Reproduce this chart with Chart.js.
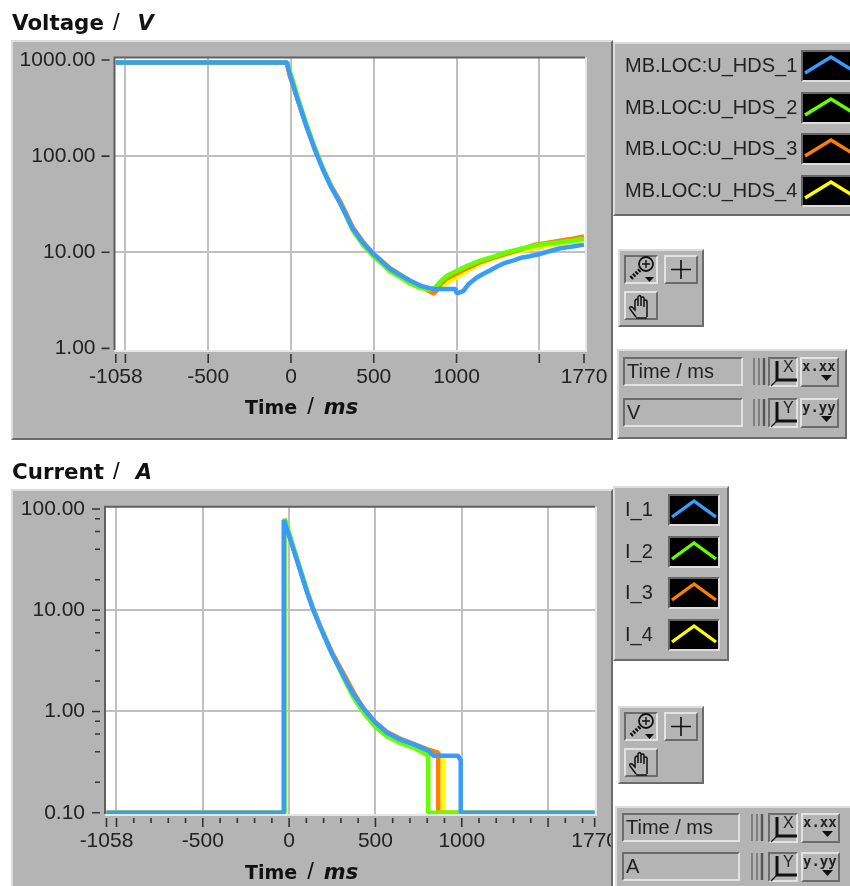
<!DOCTYPE html>
<html>
<head>
<meta charset="utf-8">
<title>Voltage and Current</title>
<script src="https://cdn.jsdelivr.net/npm/chart.js@4"></script>
<style>
  html, body { margin: 0; background: #fff; }
  #page { position: relative; width: 850px; height: 886px; overflow: hidden; filter: blur(0.45px);
          font-family: "Liberation Sans", sans-serif; color: #222; }
  .abs { position: absolute; }
  .box { position: absolute; box-sizing: border-box; background: #b4b4b4;
         border: 2px solid; border-color: #dcdcdc #6c6c6c #6c6c6c #dcdcdc; }
  canvas { position: absolute; left: 0; top: 0; }
  .heading { position: absolute; font: bold 21.4px "DejaVu Sans", sans-serif; color: #111; white-space: pre; line-height: 26px; }
  .axisTitle { position: absolute; font: bold 19px "DejaVu Sans", sans-serif; color: #111; white-space: pre; line-height: 24px; }
  .slash { font: normal 24px "Liberation Sans", sans-serif; }
  .unit { font: italic bold 21px "DejaVu Sans", sans-serif; }
  .legendLabel { position: absolute; font-size: 20px; line-height: 24px; white-space: pre; color: #222; }
  .swatch { position: absolute; box-sizing: border-box; background: #000; overflow: hidden;
            border: 2px solid; border-color: #666 #ddd #ddd #666; }
  .btn { position: absolute; box-sizing: border-box; border: 2px solid; border-color: #e2e2e2 #6c6c6c #6c6c6c #e2e2e2; }
  .btn.sunken { border-color: #6c6c6c #e2e2e2 #e2e2e2 #6c6c6c; }
  .field { position: absolute; box-sizing: border-box; border: 2px solid; border-color: #6c6c6c #e2e2e2 #e2e2e2 #6c6c6c;
           font-size: 20px; line-height: 24px; padding-left: 2px; white-space: pre; color: #222; }
  svg { position: absolute; left: 0; top: 0; overflow: visible; }
</style>
</head>
<body>
<div id="page"></div>
<script>
// Voltage traces (time in ms, value in V)
const u1Time = [-1058, -25, -8, 0, 47, 95, 143, 192, 240, 295, 337, 373, 434, 494, 550, 599, 660, 720, 780, 861, 992, 1002, 1042, 1073, 1123, 1160, 1204, 1245, 1284, 1340, 1384, 1440, 1505, 1565, 1626, 1700, 1770];
const u1Vals = [940, 940, 720, 649, 356, 200, 118, 73, 48.4, 33, 23.6, 17.6, 12.6, 9.7, 8, 6.7, 5.8, 5.06, 4.5, 4.14, 4.14, 3.72, 3.97, 4.67, 5.47, 5.95, 6.5, 7.1, 7.65, 8.2, 8.7, 9.1, 9.6, 10.3, 11, 11.5, 12];
const u2Time = [-1058, -22, -3, 47, 95, 143, 192, 240, 295, 337, 373, 434, 494, 550, 599, 660, 720, 780, 840, 871, 905, 942, 982, 1062, 1143, 1224, 1304, 1384, 1466, 1545, 1627, 1700, 1770];
const u2Vals = [945, 945, 730, 378, 212, 124, 76, 49.5, 33, 23, 16.9, 12, 9.2, 7.6, 6.3, 5.5, 4.7, 4.25, 4.1, 4.29, 5, 5.7, 6.17, 7.2, 8.2, 9, 10, 10.8, 11.7, 12.3, 12.7, 13.2, 13.8];
const u3Time = [-1058, -25, -10, 47, 95, 143, 192, 240, 295, 337, 373, 434, 494, 550, 599, 660, 720, 780, 840, 861, 880, 905, 942, 982, 1062, 1143, 1224, 1304, 1384, 1466, 1545, 1627, 1700, 1770];
const u3Vals = [940, 940, 710, 360, 202, 120, 75, 50, 34.5, 24.5, 18.2, 12.9, 9.8, 8, 6.8, 5.8, 5, 4.5, 3.9, 3.72, 4, 4.7, 5.35, 5.8, 6.8, 7.9, 8.8, 9.7, 10.6, 11.9, 12.5, 13.2, 13.8, 14.6];
const u4Time = [-1058, -25, -10, 47, 95, 143, 192, 240, 295, 337, 373, 434, 494, 550, 599, 660, 720, 780, 840, 880, 950, 1000, 1062, 1143, 1224, 1304, 1384, 1466, 1545, 1627, 1700, 1770];
const u4Vals = [940, 940, 705, 358, 201, 119, 74, 49, 33.5, 24, 17.9, 12.7, 9.7, 8.1, 6.9, 5.9, 5.05, 4.5, 4.15, 4.1, 4.9, 5.5, 6.4, 7.6, 8.6, 9.5, 10.3, 11, 11.7, 12.4, 13, 13.5];

// Current traces (time in ms, value in A)
const i1Time = [-1058, -30, -30, -24, 23, 69, 104, 139, 179, 248, 335, 372, 430, 498, 565, 642, 720, 806, 835, 978, 994, 994, 1770];
const i1Vals = [0.1, 0.1, 78, 72.6, 41, 23.2, 15, 10.2, 6.9, 3.74, 1.93, 1.49, 1.07, 0.78, 0.62, 0.53, 0.476, 0.41, 0.365, 0.365, 0.33, 0.1, 0.1];
const i2Time = [-1058, -27, -27, -20, 23, 69, 104, 139, 179, 248, 335, 372, 430, 498, 565, 642, 720, 790, 806, 806, 1000, 1770];
const i2Vals = [0.1, 0.1, 80, 76, 43, 24.3, 15.6, 10.4, 7, 3.7, 1.85, 1.38, 0.98, 0.71, 0.57, 0.49, 0.44, 0.38, 0.36, 0.1, 0.1, 0.1];
const i3Time = [-1058, -30, -30, -24, 23, 69, 104, 139, 179, 248, 335, 372, 430, 498, 565, 642, 720, 806, 864, 864, 1770];
const i3Vals = [0.1, 0.1, 78, 73, 42, 23.8, 15.4, 10.4, 7.1, 3.85, 2.05, 1.56, 1.08, 0.79, 0.63, 0.54, 0.48, 0.42, 0.393, 0.1, 0.1];
const i4Time = [-1058, -30, -30, -24, 23, 69, 104, 139, 179, 248, 335, 372, 430, 498, 565, 642, 720, 806, 890, 890, 1770];
const i4Vals = [0.1, 0.1, 78, 72.8, 41.2, 23.4, 15.1, 10.2, 6.95, 3.78, 1.95, 1.5, 1.06, 0.77, 0.62, 0.53, 0.47, 0.41, 0.36, 0.1, 0.1];

// Axis ticks
const timeTicks = [-1058, -1000, -500, 0, 500, 1000, 1500, 1770];
const timeLabels = [-1058, -500, 0, 500, 1000, 1770];
const timeGrid = [-1000, -500, 0, 500, 1000, 1500];
const timeMinor = [-900, -800, -700, -600, -400, -300, -200, -100, 100, 200, 300, 400, 600, 700, 800, 900, 1100, 1200, 1300, 1400, 1600, 1700];
const voltTicks = [1, 10, 100, 1000];
const voltGrid = [10, 100];
const currTicks = [0.1, 1, 10, 100];
const currGrid = [1, 10];
const currMinor = [0.2, 0.4, 0.6, 0.8, 2, 4, 6, 8, 20, 40, 60, 80];

const voltNames = ['MB.LOC:U_HDS_1', 'MB.LOC:U_HDS_2', 'MB.LOC:U_HDS_3', 'MB.LOC:U_HDS_4'];
const currNames = ['I_1', 'I_2', 'I_3', 'I_4'];
const traceColors = ['#3a9bff', '#66ff00', '#ff7f00', '#ffff00'];

const page = document.getElementById('page');

function zip(xs, ys) {
    return xs.map((x, i) => ({ x: x, y: ys[i] }));
}

// white plot backdrop, sunken frame and the tick marks, placed through the scales
const panelAxes = {
    id: 'panelAxes',
    beforeDraw(chart) {
        const a = chart.chartArea, ctx = chart.ctx;
        ctx.fillStyle = '#fff';
        ctx.fillRect(a.left, a.top, a.right - a.left, a.bottom - a.top);
    },
    afterDraw(chart, args, o) {
        const a = chart.chartArea, ctx = chart.ctx;
        ctx.save();
        ctx.strokeStyle = '#5f5f5f';
        ctx.lineWidth = 2;
        ctx.beginPath();
        ctx.moveTo(a.left, a.bottom);
        ctx.lineTo(a.left, a.top);
        ctx.lineTo(a.right, a.top);
        ctx.stroke();
        ctx.strokeStyle = '#e6e6e6';
        ctx.beginPath();
        ctx.moveTo(a.left, a.bottom + 1);
        ctx.lineTo(a.right + 1, a.bottom + 1);
        ctx.lineTo(a.right + 1, a.top);
        ctx.stroke();
        ctx.strokeStyle = '#333';
        ctx.lineWidth = 1.6;
        ctx.beginPath();
        const xs = chart.scales.x, ys = chart.scales.y;
        o.xMajor.forEach(v => { const p = xs.getPixelForValue(v); ctx.moveTo(p, a.bottom + 4); ctx.lineTo(p, a.bottom + 13); });
        o.xMinor.forEach(v => { const p = xs.getPixelForValue(v); ctx.moveTo(p, a.bottom + 4); ctx.lineTo(p, a.bottom + 9); });
        o.yMajor.forEach(v => { const p = ys.getPixelForValue(v); ctx.moveTo(a.left - 13, p); ctx.lineTo(a.left - 5, p); });
        o.yMinor.forEach(v => { const p = ys.getPixelForValue(v); ctx.moveTo(a.left - 10, p); ctx.lineTo(a.left - 5, p); });
        ctx.stroke();
        ctx.restore();
    }
};

function getChartConfig(s) {
    return {
        type: 'line',
        data: {
            datasets: s.series.map((d, i) => ({
                label: s.names[i],
                data: d,
                borderColor: traceColors[i],
                borderWidth: 4.5,
                borderJoinStyle: 'bevel',
                pointRadius: 0,
                tension: 0
            }))
        },
        options: {
            responsive: false,
            animation: false,
            events: [],
            layout: { padding: { left: 0, top: s.padTop, right: s.padRight, bottom: 0 } },
            plugins: {
                legend: { display: false },
                tooltip: { enabled: false },
                panelAxes: { xMajor: timeTicks, xMinor: s.xMinor, yMajor: s.yTicks, yMinor: s.yMinor }
            },
            scales: {
                x: {
                    type: 'linear',
                    min: s.xMin,
                    max: s.xMax,
                    afterBuildTicks(scale) { scale.ticks = timeTicks.map(v => ({ value: v })); },
                    afterFit(scale) { scale.height = s.xHeight; scale.paddingLeft = 0; scale.paddingRight = 0; },
                    border: { display: false },
                    grid: {
                        drawTicks: false,
                        lineWidth: 2,
                        color: c => timeGrid.includes(c.tick.value) ? '#c0c0c0' : 'rgba(0,0,0,0)'
                    },
                    ticks: {
                        autoSkip: false,
                        maxRotation: 0,
                        minRotation: 0,
                        padding: 15,
                        color: '#222',
                        font: { family: 'Liberation Sans', size: 21 },
                        callback: v => timeLabels.includes(v) ? String(v) : ''
                    }
                },
                y: {
                    type: 'logarithmic',
                    min: s.yMin,
                    max: s.yMax,
                    afterBuildTicks(scale) { scale.ticks = s.yTicks.map(v => ({ value: v })); },
                    afterFit(scale) { scale.width = s.yWidth; scale.paddingTop = 0; scale.paddingBottom = 0; },
                    border: { display: false },
                    grid: {
                        drawTicks: false,
                        lineWidth: 2,
                        color: c => s.yGrid.includes(c.tick.value) ? '#c0c0c0' : 'rgba(0,0,0,0)'
                    },
                    ticks: {
                        padding: s.yPad,
                        color: '#222',
                        font: { family: 'Liberation Sans', size: 21 },
                        callback: v => Number(v).toFixed(2)
                    }
                }
            }
        },
        plugins: [panelAxes]
    };
}

function add(cls, left, top, width, height, html) {
    const el = document.createElement('div');
    el.className = cls;
    el.style.left = left + 'px';
    el.style.top = top + 'px';
    if (width != null) el.style.width = width + 'px';
    if (height != null) el.style.height = height + 'px';
    if (html) el.innerHTML = html;
    page.appendChild(el);
    return el;
}

function chevron(w, h, color) {
    return `<svg width="${w}" height="${h}"><polyline points="2,${h - 7} ${w / 2},5 ${w - 2},${h - 7}" fill="none" stroke="${color}" stroke-width="3.4"/></svg>`;
}

function addLegend(x, y, w, h, names, labelX, swatchX, swatchW) {
    add('box', x, y, w, h);
    names.forEach((n, i) => {
        const top = y + 7 + i * 41.7;
        add('legendLabel', labelX, top + 4, null, null, n);
        add('swatch', swatchX, top + 1, swatchW, 32, chevron(swatchW - 4, 28, traceColors[i]));
    });
}

const zoomIcon = `<svg width="32" height="28"><circle cx="20" cy="7" r="7" fill="none" stroke="#111" stroke-width="1.8"/><path d="M16 7h8M20 3v8" stroke="#111" stroke-width="1.4"/><path d="M14 13L4 22" stroke="#111" stroke-width="4" stroke-dasharray="2 1.4"/><path d="M19 20h9l-4.5 5z" fill="#111"/></svg>`;
const plusIcon = `<svg width="32" height="28"><path d="M15 3v19M5 12.5h20" stroke="#111" stroke-width="1.6"/></svg>`;
const handIcon = `<svg width="32" height="28"><path d="M10 24L4 16q-1-3 2-2l3 3V8q1-3 3-1V13V4q2-3 3 0V13V5q2-2 3 0V14V8q2-2 3 0V18L21 24M10 25H21" fill="none" stroke="#111" stroke-width="1.5"/></svg>`;

function addPalette(x, y) {
    add('box', x, y, 86, 78);
    add('btn sunken', x + 6, y + 6, 34, 29, zoomIcon);
    add('btn', x + 46, y + 6, 34, 29, plusIcon);
    add('btn', x + 6, y + 42, 34, 29, handIcon);
}

function formatButton(letter) {
    return `<div style="position:absolute;left:0;top:-1px;font:bold 14px 'DejaVu Sans Mono',monospace;line-height:16px">${letter}.${letter}${letter}</div>` +
        `<svg width="36" height="28"><path d="M19 16h11l-5.5 6z" fill="#111"/></svg>`;
}

function axisButton(letter) {
    return `<svg width="28" height="28"><path d="M7 2v19h20" fill="none" stroke="#111" stroke-width="3"/><path d="M7 21L1 27" stroke="#111" stroke-width="1.2"/></svg>` +
        `<div style="position:absolute;left:13px;top:0;font-size:16px;line-height:16px">${letter}</div>`;
}

function addCursor(x, y, w, h, fieldX, fieldW, rows, labels, barX, axisX, fmtX) {
    add('box', x, y, w, h);
    const letters = ['X', 'Y'];
    rows.forEach((top, i) => {
        add('field', fieldX, top, fieldW, 29, labels[i]);
        add('abs', barX, top + 1, 15, 27,
            `<svg width="15" height="27"><path d="M2 0v27M7 0v27" stroke="#808080" stroke-width="2"/><path d="M12 0v27" stroke="#555" stroke-width="2.4"/></svg>`);
        add('btn sunken', axisX, top, 30, 30, axisButton(letters[i]));
        add('btn', fmtX, top, 39, 30, formatButton(letters[i].toLowerCase()));
    });
}

function titleHtml(name, slashGap, unit, unitGap) {
    return `${name}<span class="slash" style="margin-left:${slashGap}px">/</span><span class="unit" style="margin-left:${unitGap}px">${unit}</span>`;
}

// Voltage panel
add('heading', 12, 8, null, null, titleHtml('Voltage', 9, 'V', 18));
const voltPanel = add('box', 11, 40, 602, 400);
const voltCanvas = document.createElement('canvas');
voltCanvas.width = 598; voltCanvas.height = 396;
voltPanel.appendChild(voltCanvas);
new Chart(voltCanvas.getContext('2d'), getChartConfig({
    names: voltNames,
    series: [zip(u1Time, u1Vals), zip(u2Time, u2Vals), zip(u3Time, u3Vals), zip(u4Time, u4Vals)],
    xMin: -1066, xMax: 1776,
    yMin: 0.962, yMax: 1062,
    yTicks: voltTicks, yGrid: voltGrid, yMinor: [], xMinor: [],
    padTop: 15.5, padRight: 26, xHeight: 88, yWidth: 101.5, yPad: 19
}));
add('axisTitle', 245, 392, null, null, titleHtml('Time', 10, 'ms', 10));

// Current panel
add('heading', 12, 457, null, null, titleHtml('Current', 9, 'A', 16));
const currPanel = add('box', 11, 489, 602, 402);
const currCanvas = document.createElement('canvas');
currCanvas.width = 598; currCanvas.height = 398;
currPanel.appendChild(currCanvas);
new Chart(currCanvas.getContext('2d'), getChartConfig({
    names: currNames,
    series: [zip(i1Time, i1Vals), zip(i2Time, i2Vals), zip(i3Time, i3Vals), zip(i4Time, i4Vals)],
    xMin: -1066.6, xMax: 1772,
    yMin: 0.0971, yMax: 105.4,
    yTicks: currTicks, yGrid: currGrid, yMinor: currMinor, xMinor: timeMinor,
    padTop: 15.7, padRight: 16, xHeight: 75, yWidth: 92, yPad: 20
}));
add('axisTitle', 245, 857, null, null, titleHtml('Time', 10, 'ms', 10));

// Legends and tool palettes beside the graphs
addLegend(613, 42, 260, 174, voltNames, 625, 801, 60);
addPalette(618, 249);
addCursor(617, 349, 230, 90, 623, 120, [357, 398], ['Time / ms', 'V'], 752, 768, 800);

addLegend(613, 486, 116, 175, currNames, 625, 668, 52);
addPalette(618, 706);
addCursor(615, 806, 260, 90, 622, 118, [813, 852], ['Time / ms', 'A'], 750, 768, 801);
</script>
</body>
</html>
